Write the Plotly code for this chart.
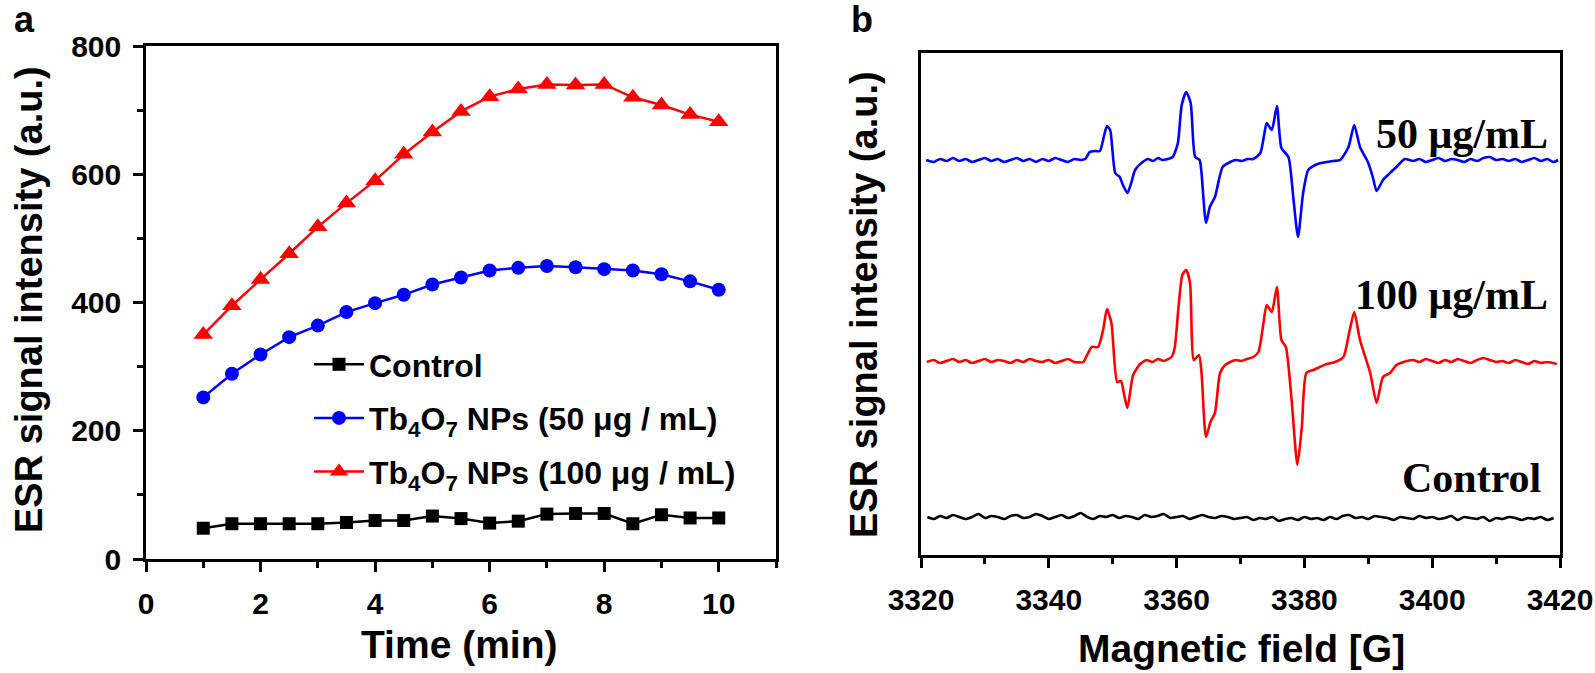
import plotly.graph_objects as go

# ---------------- Panel a data ----------------
time_min = [1, 1.5, 2, 2.5, 3, 3.5, 4, 4.5, 5, 5.5, 6, 6.5, 7, 7.5, 8, 8.5, 9, 9.5, 10]
control_a = [48, 55, 55, 55, 55, 57, 60, 60, 67, 63, 56, 59, 70, 71, 71, 55, 69, 64, 64]
np50_a = [252, 289, 319, 346, 364, 385, 399, 412, 428, 439, 450, 454, 457, 455, 452, 450, 444, 433, 420]
np100_a = [350, 395, 436, 476, 518, 555, 590, 631, 666, 698, 721, 733, 740, 739, 740, 720, 708, 693, 682]

x_ticks_a = [0, 2, 4, 6, 8, 10]
y_ticks_a = [0, 200, 400, 600, 800]

# ---------------- Panel b data (field [G], intensity a.u.) ----------------
spec50 = [
    (3320.8, 395), (3322, 393), (3323, 396), (3324, 394), (3325, 397), (3326, 394), (3327, 396),
    (3328, 393), (3329, 395), (3330, 397), (3331, 394), (3332, 396), (3333, 393), (3334, 395),
    (3335, 397), (3336, 394), (3337, 396), (3338, 393), (3339, 396), (3340, 394), (3341, 397),
    (3342, 395), (3343, 393), (3344, 396), (3345, 395),
    (3345.7, 396), (3346.4, 403), (3347.2, 404), (3348.0, 404), (3348.6, 418), (3349.1, 429),
    (3349.6, 425), (3350.4, 382), (3351.1, 378), (3351.6, 370), (3352.3, 362), (3352.9, 372),
    (3353.5, 385), (3354.7, 393), (3355.5, 396), (3356.3, 394), (3357.1, 397), (3357.8, 395),
    (3358.6, 396), (3359.4, 398), (3360.2, 412), (3360.8, 450), (3361.5, 463), (3362.2, 452),
    (3362.9, 398), (3363.6, 395), (3363.9, 382), (3364.6, 332), (3365.2, 348), (3366.0, 358),
    (3367.2, 388), (3368.4, 393), (3369.3, 395), (3370.2, 394), (3371.1, 396), (3372.0, 396),
    (3373.1, 402), (3373.7, 420), (3374.1, 432), (3374.9, 425), (3375.7, 449), (3376.4, 407),
    (3377.5, 398), (3378.3, 355), (3379.0, 318), (3379.8, 362), (3380.6, 385), (3381.7, 390),
    (3382.6, 392), (3383.5, 393), (3384.5, 394), (3385.6, 395), (3386.9, 408), (3387.8, 430),
    (3388.7, 408), (3390.0, 392), (3390.7, 378), (3391.3, 364), (3392.3, 375), (3393.4, 382),
    (3394.4, 388), (3395.7, 396),
    (3397, 394), (3398, 396), (3399, 393), (3400, 395), (3401, 397), (3402, 394), (3403, 396),
    (3404, 395), (3405, 393), (3406, 396), (3407, 394), (3408, 397), (3409, 398), (3410, 395),
    (3411, 396), (3412, 394), (3413, 396), (3414, 393), (3415, 395), (3416, 397), (3417, 394),
    (3418, 396), (3419, 393), (3419.7, 395),
]

spec100 = [
    (3320.9, 193), (3322, 195), (3323, 192), (3324, 194), (3325, 196), (3326, 193), (3327, 195),
    (3328, 192), (3329, 194), (3330, 196), (3331, 193), (3332, 195), (3333, 194), (3334, 192),
    (3335, 195), (3336, 193), (3337, 196), (3338, 194), (3339, 193), (3340, 195), (3341, 192),
    (3342, 194), (3343, 196), (3344, 193), (3345.4, 193),
    (3346.0, 200), (3346.7, 208), (3347.7, 208), (3348.5, 225), (3349.1, 246), (3349.8, 232),
    (3350.7, 173), (3351.3, 174), (3351.8, 160), (3352.3, 147), (3353.2, 180), (3354.3, 191),
    (3355.3, 195), (3356.2, 193), (3357.1, 196), (3358.0, 194), (3359.2, 198), (3359.7, 207),
    (3360.3, 248), (3360.9, 280), (3361.5, 285), (3362.1, 272), (3362.7, 195), (3363.5, 200),
    (3363.9, 182), (3364.6, 118), (3365.3, 133), (3366.0, 142), (3366.8, 182), (3367.6, 190),
    (3368.4, 193), (3369.3, 195), (3370.1, 194), (3371.0, 196), (3372.0, 198), (3372.8, 203),
    (3373.6, 232), (3374.1, 250), (3374.9, 243), (3375.7, 268), (3376.4, 215), (3377.1, 208),
    (3378.0, 155), (3378.9, 90), (3379.6, 128), (3380.3, 182), (3381.4, 185), (3382.4, 188),
    (3383.5, 191), (3384.8, 193), (3386.1, 198), (3387.0, 222), (3387.8, 243), (3388.7, 215),
    (3390.3, 182), (3391.3, 152), (3392.3, 178), (3393.4, 182), (3394.4, 190), (3395.5, 193),
    (3397, 195), (3398, 193), (3399, 196), (3400, 194), (3401, 192), (3402, 195), (3403, 193),
    (3404, 196), (3405, 194), (3406, 192), (3407, 195), (3408, 197), (3409, 195), (3410, 193),
    (3411, 194), (3412, 192), (3413, 195), (3414, 193), (3415, 191), (3416, 194), (3417, 192),
    (3418, 193), (3419.5, 191),
]

spec_ctrl = [
    (3321, 38), (3322, 36), (3323, 39), (3324, 37), (3325, 40), (3326, 38), (3327, 36), (3328, 38),
    (3329, 41), (3330, 37), (3331, 39), (3332, 38), (3333, 36), (3334, 39), (3335, 40), (3336, 37),
    (3337, 38), (3338, 41), (3339, 39), (3340, 36), (3341, 38), (3342, 40), (3343, 37), (3344, 39),
    (3345, 42), (3346, 38), (3347, 36), (3348, 39), (3349, 38), (3350, 40), (3351, 37), (3352, 39),
    (3353, 38), (3354, 36), (3355, 40), (3356, 38), (3357, 39), (3358, 41), (3359, 37), (3360, 38),
    (3361, 39), (3362, 36), (3363, 38), (3364, 40), (3365, 38), (3366, 37), (3367, 39), (3368, 38),
    (3369, 36), (3370, 37), (3371, 38), (3372, 35), (3373, 37), (3374, 36), (3375, 38), (3376, 34),
    (3377, 36), (3378, 37), (3379, 35), (3380, 38), (3381, 36), (3382, 37), (3383, 35), (3384, 38),
    (3385, 36), (3386, 39), (3387, 40), (3388, 37), (3389, 38), (3390, 36), (3391, 39), (3392, 38),
    (3393, 37), (3394, 35), (3395, 38), (3396, 37), (3397, 36), (3398, 39), (3399, 37), (3400, 38),
    (3401, 36), (3402, 37), (3403, 39), (3404, 35), (3405, 38), (3406, 37), (3407, 36), (3408, 38),
    (3409, 34), (3410, 37), (3411, 36), (3412, 38), (3413, 37), (3414, 35), (3415, 37), (3416, 36),
    (3417, 38), (3418, 35), (3419, 37),
]

x_ticks_b = [3320, 3340, 3360, 3380, 3400, 3420]

labels_a = ["Control", "Tb<sub>4</sub>O<sub>7</sub> NPs (50 μg / mL)", "Tb<sub>4</sub>O<sub>7</sub> NPs (100 μg / mL)"]
labels_b = ["50 μg/mL", "100 μg/mL", "Control"]

W, H = 1595, 673
def px(x):
    return x / W
def py(y):
    return 1 - y / H

SANS = "Liberation Sans, Arial, sans-serif"
SERIF = "Liberation Serif, Times New Roman, serif"

fig = go.Figure()

# Panel a traces
fig.add_trace(go.Scatter(x=time_min, y=control_a, mode="lines+markers", name=labels_a[0],
                         line=dict(color="black", width=2.5),
                         marker=dict(symbol="square", size=13, color="black"),
                         xaxis="x", yaxis="y", legendgroup="g1"))
fig.add_trace(go.Scatter(x=time_min, y=np50_a, mode="lines+markers", name=labels_a[1],
                         line=dict(color="#0000FF", width=2.5),
                         marker=dict(symbol="circle", size=14, color="#0000FF"),
                         xaxis="x", yaxis="y", legendgroup="g2"))
fig.add_trace(go.Scatter(x=time_min, y=np100_a, mode="lines+markers", name=labels_a[2],
                         line=dict(color="#FF0000", width=2.5),
                         marker=dict(symbol="triangle-up", size=17, color="#FF0000"),
                         xaxis="x", yaxis="y", legendgroup="g3"))

# Panel b traces
for spec, col in [(spec50, "#0000FF"), (spec100, "#FF0000"), (spec_ctrl, "black")]:
    fig.add_trace(go.Scatter(x=[p[0] for p in spec], y=[p[1] for p in spec], mode="lines",
                             line=dict(color=col, width=2.6, shape="spline", smoothing=0.6),
                             showlegend=False, xaxis="x2", yaxis="y2"))

tickfont = dict(family=SANS, size=30, color="black", weight="bold")
axis_common = dict(showline=True, linecolor="black", linewidth=2.5, mirror=True,
                   ticks="outside", ticklen=10, tickwidth=2.5, tickcolor="black",
                   showgrid=False, zeroline=False, tickfont=tickfont, automargin=False)

fig.update_layout(
    width=W, height=H, margin=dict(l=0, r=0, t=0, b=0, autoexpand=False),
    paper_bgcolor="white", plot_bgcolor="white",
    xaxis=dict(domain=[px(146), px(776)], range=[0, 11], tickvals=x_ticks_a,
               minor=dict(dtick=1, tick0=1, ticks="outside", ticklen=6, tickwidth=2.5, tickcolor="black"),
               anchor="y", ticklabelstandoff=6, **axis_common),
    yaxis=dict(domain=[py(559), py(46)], range=[0, 800], tickvals=y_ticks_a,
               minor=dict(dtick=100, tick0=100, ticks="outside", ticklen=6, tickwidth=2.5, tickcolor="black"),
               anchor="x", ticklabelstandoff=6, **axis_common),
    xaxis2=dict(domain=[px(921), px(1560)], range=[3320, 3420], tickvals=x_ticks_b,
                minor=dict(dtick=10, tick0=3320, ticks="outside", ticklen=6, tickwidth=2.5, tickcolor="black"),
                anchor="y2", ticklabelstandoff=6, **axis_common),
    yaxis2=dict(domain=[py(555), py(53)], range=[0, 502], showline=True, linecolor="black",
                linewidth=2.5, mirror=True, ticks="", showticklabels=False, showgrid=False,
                zeroline=False, anchor="x2", automargin=False),
    legend=dict(x=px(309), y=py(337), xanchor="left", yanchor="top",
                bgcolor="rgba(0,0,0,0)", traceorder="grouped", tracegroupgap=9,
                font=dict(family=SANS, size=32, color="black", weight="bold"),
                itemwidth=50),
)

ann = []
def add_text(txt, x, y, size, family=SANS, angle=0, xanchor="center"):
    ann.append(dict(text=txt, x=px(x), y=py(y), xref="paper", yref="paper", showarrow=False,
                    xanchor=xanchor, yanchor="middle", textangle=angle,
                    font=dict(family=family, size=size, color="black", weight="bold")))

add_text("a", 24, 19, 36)
add_text("b", 862, 19, 36)
add_text("ESR signal intensity (a.u.)", 29, 300, 38, angle=-90)
add_text("Time (min)", 459, 644, 39)
add_text("ESR signal intensity (a.u.)", 864, 304, 38, angle=-90)
add_text("Magnetic field [G]", 1241, 648, 39)
add_text(labels_b[0], 1550, 134, 42, family=SERIF, xanchor="right")
add_text(labels_b[1], 1550, 295, 42, family=SERIF, xanchor="right")
add_text(labels_b[2], 1543, 478, 42, family=SERIF, xanchor="right")
fig.update_layout(annotations=ann)

fig.write_html("out.html", config={"displayModeBar": False},
               post_script="document.body.style.margin='0px';document.body.style.overflow='hidden';")
